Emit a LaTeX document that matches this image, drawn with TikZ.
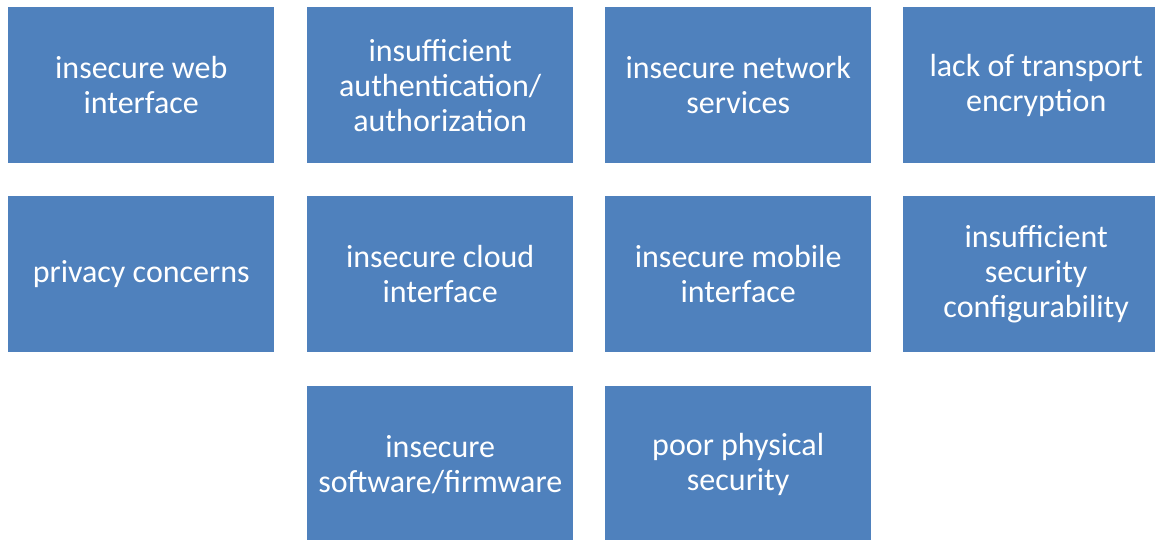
\documentclass[tikz,border=0pt]{standalone}
\usepackage{fontspec}
\setmainfont{Carlito}
\definecolor{tileblue}{HTML}{4F81BD}
\begin{document}
\begin{tikzpicture}[x=1pt,y=-1pt,
  tile/.style={fill=tileblue, draw=none, anchor=north west, inner sep=0pt,
    minimum width=266pt, minimum height=156pt, text=white, align=center,
    font=\fontsize{32}{35}\selectfont}]
  \useasboundingbox (0,0) rectangle (1155,540);
  \fill[white] (0,0) rectangle (1155,540);
  \clip (0,0) rectangle (1155,540);
  % first row
  \node[tile] (web)   at (8,7)   {insecure web\\interface};
  \node[tile] (auth)  at (307,7) {insufficient\\authentication/\\authorization};
  \node[tile] (net)   at (605,7) {insecure network\\services};
  \node[tile] (trans) at (903,7) {lack of transport\\encryption};
  % second row
  \node[tile] (priv)  at (8,196)   {privacy concerns};
  \node[tile] (cloud) at (307,196) {insecure cloud\\interface};
  \node[tile] (mob)   at (605,196) {insecure mobile\\interface};
  \node[tile] (conf)  at (903,196) {insufficient\\security\\configurability};
  % third row
  \node[tile] (soft)  at (307,386) {insecure\\software/firmware};
  \node[tile] (phys)  at (605,386) {poor physical\\security};
\end{tikzpicture}
\end{document}
